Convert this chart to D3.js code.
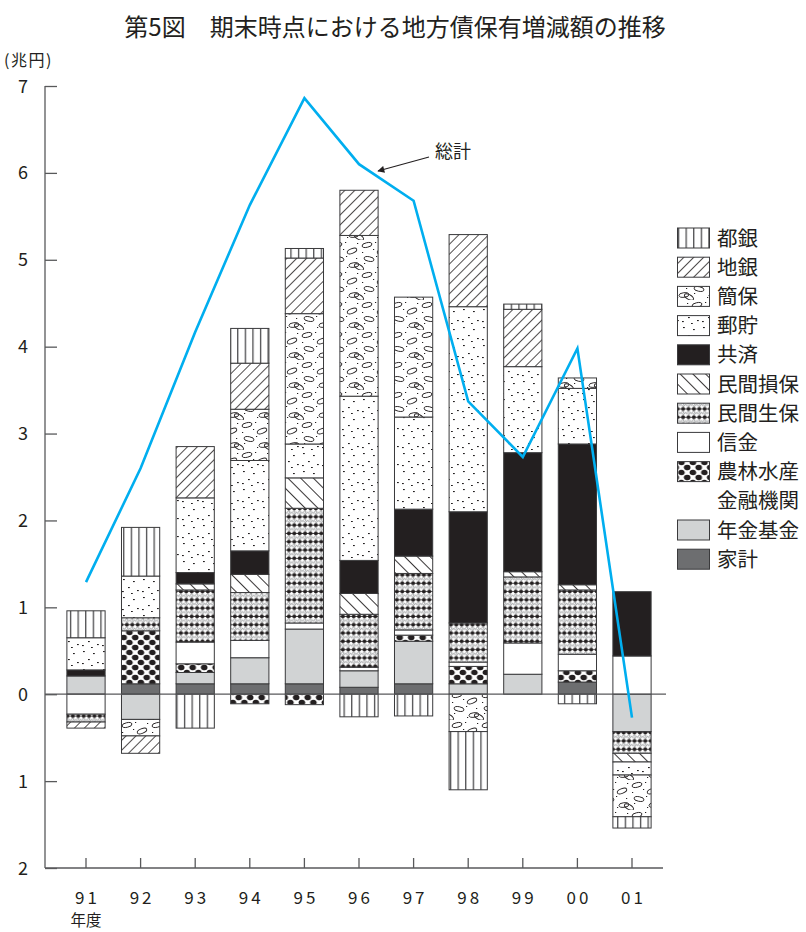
<!DOCTYPE html>
<html>
<head>
<meta charset="utf-8">
<script src="https://cdn.jsdelivr.net/npm/d3@7"></script>
<style>
  body { margin: 0; background: #fff; }
  svg { display: block; font-family: "Noto Sans CJK JP", "Noto Sans", sans-serif; }
</style>
</head>
<body>
<svg id="chart" width="806" height="932"></svg>
<script>
// Fiscal years (年度)
const years = ["91", "92", "93", "94", "95", "96", "97", "98", "99", "00", "01"];

// Change in local bond holdings by holder (兆円), stacked from the zero line outwards
const kakei   = [0, 0.12, 0.12, 0.12, 0.12, 0.08, 0.12, 0, 0, 0.14, 0];          // 家計
const nenkin  = [0.21, -0.29, 0.13, 0.30, 0.63, 0.19, 0.49, 0.12, 0.23, 0, -0.43]; // 年金基金
const norin   = [0, 0.61, 0.10, -0.11, -0.12, 0, 0.07, 0.20, 0, 0.13, 0];        // 農林水産金融機関
const shinkin = [-0.23, 0, 0.25, 0.20, 0.07, 0.04, 0.06, 0.05, 0.36, 0.19, 0.44]; // 信金
const seiho   = [-0.09, 0.15, 0.60, 0.55, 1.32, 0.61, 0.65, 0.45, 0.76, 0.74, -0.25]; // 民間生保
const sonpo   = [0, 0, 0.07, 0.21, 0.35, 0.24, 0.20, 0, 0.06, 0.06, -0.10];      // 民間損保
const kyosai  = [0.07, 0, 0.13, 0.27, 0, 0.38, 0.54, 1.28, 1.37, 1.62, 0.74];     // 共済
const yucho   = [0.37, 0.48, 0.86, 1.04, 0.39, 1.89, 1.06, 2.36, 0.99, 0.64, -0.15]; // 郵貯
const kanpo   = [0, -0.19, 0, 0.59, 1.50, 1.85, 1.38, -0.43, 0, 0.12, -0.48];    // 簡保
const chigin  = [-0.07, -0.20, 0.59, 0.53, 0.64, 0.52, 0, 0.83, 0.66, 0, 0];     // 地銀
const togin   = [0.31, 0.56, -0.39, 0.40, 0.11, -0.26, -0.25, -0.67, 0.06, -0.11, -0.13]; // 都銀

// 総計 line
const total = [1.29, 2.60, 4.17, 5.63, 6.86, 6.10, 5.68, 3.37, 2.73, 3.98, -0.27];

// Y axis ticks (negatives printed without sign)
const yTicks = [7, 6, 5, 4, 3, 2, 1, 0, -1, -2];
const yTickLabels = ["7", "6", "5", "4", "3", "2", "1", "0", "1", "2"];

// Series in stacking order (bottom-up from zero)
const series = [
  { key: "kakei",   name: "家計",     values: kakei,   fill: "#6d6e70" },
  { key: "nenkin",  name: "年金基金", values: nenkin,  fill: "#d1d3d4" },
  { key: "norin",   name: "農林水産\n金融機関", values: norin, fill: "url(#p-norin)" },
  { key: "shinkin", name: "信金",     values: shinkin, fill: "#ffffff" },
  { key: "seiho",   name: "民間生保", values: seiho,   fill: "url(#p-seiho)" },
  { key: "sonpo",   name: "民間損保", values: sonpo,   fill: "url(#p-sonpo)" },
  { key: "kyosai",  name: "共済",     values: kyosai,  fill: "#231f20" },
  { key: "yucho",   name: "郵貯",     values: yucho,   fill: "url(#p-yucho)" },
  { key: "kanpo",   name: "簡保",     values: kanpo,   fill: "url(#p-kanpo)" },
  { key: "chigin",  name: "地銀",     values: chigin,  fill: "url(#p-chigin)" },
  { key: "togin",   name: "都銀",     values: togin,   fill: "url(#p-togin)" }
];
const legendOrder = ["togin", "chigin", "kanpo", "yucho", "kyosai", "sonpo", "seiho", "shinkin", "norin", "nenkin", "kakei"];

const ink = "#231f20";
const svg = d3.select("#chart");

// ---------- fill patterns ----------
const defs = svg.append("defs");

// 都銀: vertical rules
const pT = defs.append("pattern").attr("id", "p-togin").attr("patternUnits", "userSpaceOnUse")
  .attr("width", 7.6).attr("height", 10).attr("x", 1.5);
pT.append("rect").attr("width", 7.6).attr("height", 10).attr("fill", "#fff");
pT.append("line").attr("x1", 0.6).attr("x2", 0.6).attr("y1", 0).attr("y2", 10)
  .attr("stroke", "#4d4d4f").attr("stroke-width", 1.4);

// 地銀: "/" hatch
const pC = defs.append("pattern").attr("id", "p-chigin").attr("patternUnits", "userSpaceOnUse")
  .attr("width", 7).attr("height", 7).attr("patternTransform", "rotate(45)");
pC.append("rect").attr("width", 7).attr("height", 7).attr("fill", "#fff");
pC.append("line").attr("x1", 0.5).attr("x2", 0.5).attr("y1", 0).attr("y2", 7)
  .attr("stroke", ink).attr("stroke-width", 0.8);

// 民間損保: "\" hatch
const pS = defs.append("pattern").attr("id", "p-sonpo").attr("patternUnits", "userSpaceOnUse")
  .attr("width", 9).attr("height", 9).attr("patternTransform", "rotate(-45)");
pS.append("rect").attr("width", 9).attr("height", 9).attr("fill", "#fff");
pS.append("line").attr("x1", 0.5).attr("x2", 0.5).attr("y1", 0).attr("y2", 9)
  .attr("stroke", ink).attr("stroke-width", 0.9);

// 郵貯: sparse specks
const pY = defs.append("pattern").attr("id", "p-yucho").attr("patternUnits", "userSpaceOnUse")
  .attr("width", 20).attr("height", 18);
pY.append("rect").attr("width", 20).attr("height", 18).attr("fill", "#fff");
[[3, 3], [13, 5], [8, 11], [17, 14], [2, 15], [11, 17]].forEach(([x, y]) =>
  pY.append("rect").attr("x", x).attr("y", y).attr("width", 1.8).attr("height", 1.1).attr("fill", ink));

// 簡保: oval rings with specks
const pK = defs.append("pattern").attr("id", "p-kanpo").attr("patternUnits", "userSpaceOnUse")
  .attr("width", 30).attr("height", 30);
pK.append("rect").attr("width", 30).attr("height", 30).attr("fill", "#fff");
[[7, 5, -12], [22, 11, -22], [9, 19, 10], [24, 25, -6], [-1, 27, 28], [29, 27, 28]].forEach(([cx, cy, a]) =>
  pK.append("ellipse").attr("cx", cx).attr("cy", cy).attr("rx", 5).attr("ry", 2.3)
    .attr("transform", `rotate(${a},${cx},${cy})`)
    .attr("fill", "none").attr("stroke", ink).attr("stroke-width", 0.9));
[[15, 2], [2, 12], [16, 16], [27, 3], [17, 27], [4, 23], [26, 18], [13, 9]].forEach(([x, y]) =>
  pK.append("rect").attr("x", x).attr("y", y).attr("width", 1.2).attr("height", 1).attr("fill", ink));

// 民間生保: beaded rows with grey curls between
const pG = defs.append("pattern").attr("id", "p-seiho").attr("patternUnits", "userSpaceOnUse")
  .attr("width", 5.4).attr("height", 8.3);
pG.append("rect").attr("width", 5.4).attr("height", 8.3).attr("fill", "#fff");
pG.append("path").attr("d", "M0.8,7.6 C0.2,5.4 2.8,3.8 3.4,5.0 C4.0,6.2 1.6,7.0 2.6,7.9 C3.4,8.4 4.8,6.6 5.0,5.4")
  .attr("fill", "none").attr("stroke", "#8a8c8e").attr("stroke-width", 0.9);
pG.append("line").attr("x1", 0).attr("x2", 5.4).attr("y1", 2.2).attr("y2", 2.2)
  .attr("stroke", ink).attr("stroke-width", 0.9);
pG.append("circle").attr("cx", 2.7).attr("cy", 2.2).attr("r", 1.9).attr("fill", ink);

// 農林水産金融機関: staggered black ovals
const pN = defs.append("pattern").attr("id", "p-norin").attr("patternUnits", "userSpaceOnUse")
  .attr("width", 11.5).attr("height", 10);
pN.append("rect").attr("width", 11.5).attr("height", 10).attr("fill", "#fff");
[[2.9, 2.5], [8.65, 7.5], [8.65, -2.5], [-2.85, 7.5], [14.4, 2.5], [2.9, 12.5]].forEach(([cx, cy]) =>
  pN.append("ellipse").attr("cx", cx).attr("cy", cy).attr("rx", 3.3).attr("ry", 2.7).attr("fill", ink));

// ---------- scales ----------
const x = d3.scaleBand().domain(years).range([58.7, 659.3]).paddingInner(0.3).paddingOuter(0.15);
const y = d3.scaleLinear().domain([-2, 7]).range([868, 86]);

// ---------- stacked bars ----------
const table = years.map((yr, i) => {
  const row = { year: yr };
  series.forEach(s => { row[s.key] = s.values[i]; });
  return row;
});
const stacked = d3.stack()
  .keys(series.map(s => s.key))
  .order(d3.stackOrderNone)
  .offset(d3.stackOffsetDiverging)(table);

const bars = svg.append("g");
stacked.forEach((layer, li) => {
  const s = series[li];
  bars.append("g").selectAll("rect")
    .data(layer.filter(d => Math.abs(d[1] - d[0]) > 1e-9))
    .join("rect")
    .attr("x", d => x(d.data.year))
    .attr("width", x.bandwidth())
    .attr("y", d => y(Math.max(d[0], d[1])))
    .attr("height", d => Math.abs(y(d[0]) - y(d[1])))
    .attr("fill", s.fill)
    .attr("stroke", "#3a3a3c")
    .attr("stroke-width", 1);
});

// ---------- axes ----------
const axisColor = "#58595b";
// zero line
svg.append("line").attr("x1", 45).attr("x2", 666).attr("y1", y(0)).attr("y2", y(0))
  .attr("stroke", axisColor).attr("stroke-width", 1.2);

// left axis with inward ticks
const yAxis = d3.axisRight(y).tickValues(yTicks).tickSize(12).tickFormat("");
const gy = svg.append("g").attr("transform", "translate(45,0)").call(yAxis);
gy.select(".domain").attr("d", `M0,${y(7)}V${y(-2)}`).attr("stroke", axisColor).attr("stroke-width", 1.3);
gy.selectAll(".tick line").attr("stroke", axisColor).attr("stroke-width", 1.3);
svg.append("g").selectAll("text").data(yTicks).join("text")
  .attr("x", 28).attr("y", d => y(d) + 6.5)
  .attr("text-anchor", "end").attr("font-size", 18).attr("fill", ink)
  .text((d, i) => yTickLabels[i]);

// bottom axis with upward ticks
const xAxis = d3.axisTop(x).tickSize(10).tickFormat("");
const gx = svg.append("g").attr("transform", `translate(0,${y(-2)})`).call(xAxis);
gx.select(".domain").attr("d", "M45,0H663").attr("stroke", axisColor).attr("stroke-width", 1.3);
gx.selectAll(".tick line").attr("stroke", axisColor).attr("stroke-width", 1.3);
svg.append("g").selectAll("text").data(years).join("text")
  .attr("x", d => x(d) + x.bandwidth() / 2 + 1.5).attr("y", 904)
  .attr("text-anchor", "middle").attr("font-size", 17).attr("letter-spacing", 3).attr("fill", ink)
  .text(d => d);
svg.append("text").attr("x", x("91") + x.bandwidth() / 2).attr("y", 926)
  .attr("text-anchor", "middle").attr("font-size", 15.5).attr("fill", ink).text("年度");

// ---------- total line ----------
const line = d3.line().x((d, i) => x(years[i]) + x.bandwidth() / 2).y(d => y(d));
svg.append("path").datum(total).attr("d", line)
  .attr("fill", "none").attr("stroke", "#00aeef").attr("stroke-width", 2.6)
  .attr("stroke-linejoin", "miter");

// 総計 callout
defs.append("marker").attr("id", "arrow").attr("viewBox", "0 0 10 10")
  .attr("refX", 9).attr("refY", 5).attr("markerWidth", 9).attr("markerHeight", 7)
  .attr("orient", "auto").attr("markerUnits", "userSpaceOnUse")
  .append("path").attr("d", "M0,0L10,5L0,10Z").attr("fill", ink);
svg.append("line").attr("x1", 429).attr("y1", 157).attr("x2", 378).attr("y2", 171)
  .attr("stroke", ink).attr("stroke-width", 1.1).attr("marker-end", "url(#arrow)");
svg.append("text").attr("x", 435).attr("y", 158).attr("font-size", 18).attr("fill", ink).text("総計");

// ---------- titles ----------
svg.append("text").attr("x", 395).attr("y", 36).attr("text-anchor", "middle")
  .attr("font-size", 24).attr("font-weight", 400).attr("fill", ink)
  .text("第5図　期末時点における地方債保有増減額の推移");
svg.append("text").attr("x", 4).attr("y", 66).attr("font-size", 16).attr("letter-spacing", 1.5)
  .attr("fill", ink).text("(兆円)");

// ---------- legend ----------
const legend = svg.append("g");
let ly = 238;
legendOrder.forEach(k => {
  const s = series.find(d => d.key === k);
  const lines = s.name.split("\n");
  legend.append("rect").attr("x", 677.5).attr("y", ly - 10).attr("width", 32).attr("height", 20)
    .attr("fill", s.fill).attr("stroke", "#3a3a3c").attr("stroke-width", 1);
  lines.forEach((t, j) => {
    legend.append("text").attr("x", 717).attr("y", ly + 7.5 + j * 29.2)
      .attr("font-size", 20.5).attr("fill", ink).text(t);
  });
  ly += 29.2 * lines.length;
});
</script>
</body>
</html>
